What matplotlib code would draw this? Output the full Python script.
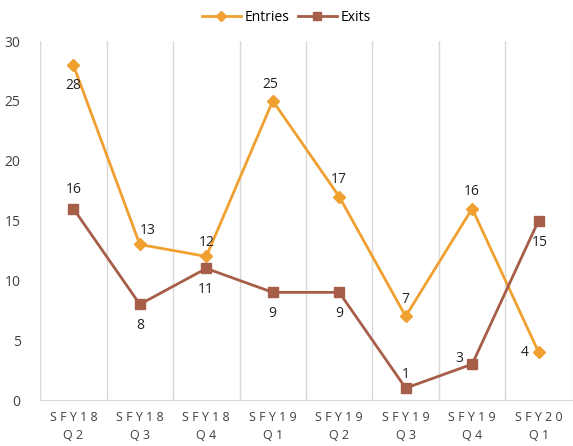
import matplotlib.pyplot as plt

quarters = ["S F Y 1 8\nQ 2", "S F Y 1 8\nQ 3", "S F Y 1 8\nQ 4", "S F Y 1 9\nQ 1",
            "S F Y 1 9\nQ 2", "S F Y 1 9\nQ 3", "S F Y 1 9\nQ 4", "S F Y 2 0\nQ 1"]
entries = [28, 13, 12, 25, 17, 7, 16, 4]
exits = [16, 8, 11, 9, 9, 1, 3, 15]

# label placement (dx, dy in points) per point
entry_off = [(0, -15), (6, 10), (0, 10), (-2, 12), (0, 12), (0, 12), (0, 12), (-10, 0)]
exit_off = [(0, 14), (0, -15), (0, -15), (0, -15), (0, -15), (0, 10), (-9, 4), (1, -16)]

plt.rcParams['font.family'] = ['Open Sans', 'DejaVu Sans']
orange = '#F0A030'
brown = '#A65E48'

fig = plt.figure(figsize=(5.73, 4.46), dpi=100)
ax = fig.add_axes([0.07, 0.103, 0.928, 0.805])

x = list(range(len(quarters)))
ax.plot(x, entries, color=orange, lw=2, marker='D', ms=6, label='Entries', zorder=3)
ax.plot(x, exits, color=brown, lw=2, marker='s', ms=6.5, label='Exits', zorder=3)

for i in x:
    ax.annotate(str(entries[i]), (i, entries[i]), xytext=entry_off[i], textcoords='offset points',
                ha='center', va='center', fontsize=10, color='#222222')
    ax.annotate(str(exits[i]), (i, exits[i]), xytext=exit_off[i], textcoords='offset points',
                ha='center', va='center', fontsize=10, color='#222222')

ax.set_xlim(-0.5, len(quarters) - 0.5)
ax.set_ylim(0, 30)
ax.set_yticks(range(0, 31, 5))
ax.set_xticks(x)
ax.set_xticklabels(quarters, fontsize=9, color='#404040', linespacing=1.45)
ax.tick_params(axis='y', labelsize=10, colors='#404040', length=0, pad=14)
ax.tick_params(axis='x', length=0, pad=8)

for b in [i - 0.5 for i in range(len(quarters) + 1)]:
    ax.axvline(b, color='#D9D9D9', lw=1, zorder=0)

for s in ['top', 'right', 'left']:
    ax.spines[s].set_visible(False)
ax.spines['bottom'].set_color('#D9D9D9')

fig.legend(loc='upper center', bbox_to_anchor=(0.5, 1.005), ncol=2, frameon=False,
           fontsize=10, handlelength=2.8, columnspacing=0.6, handletextpad=0.3, markerscale=0.8)

fig.savefig('out.png', dpi=100)
